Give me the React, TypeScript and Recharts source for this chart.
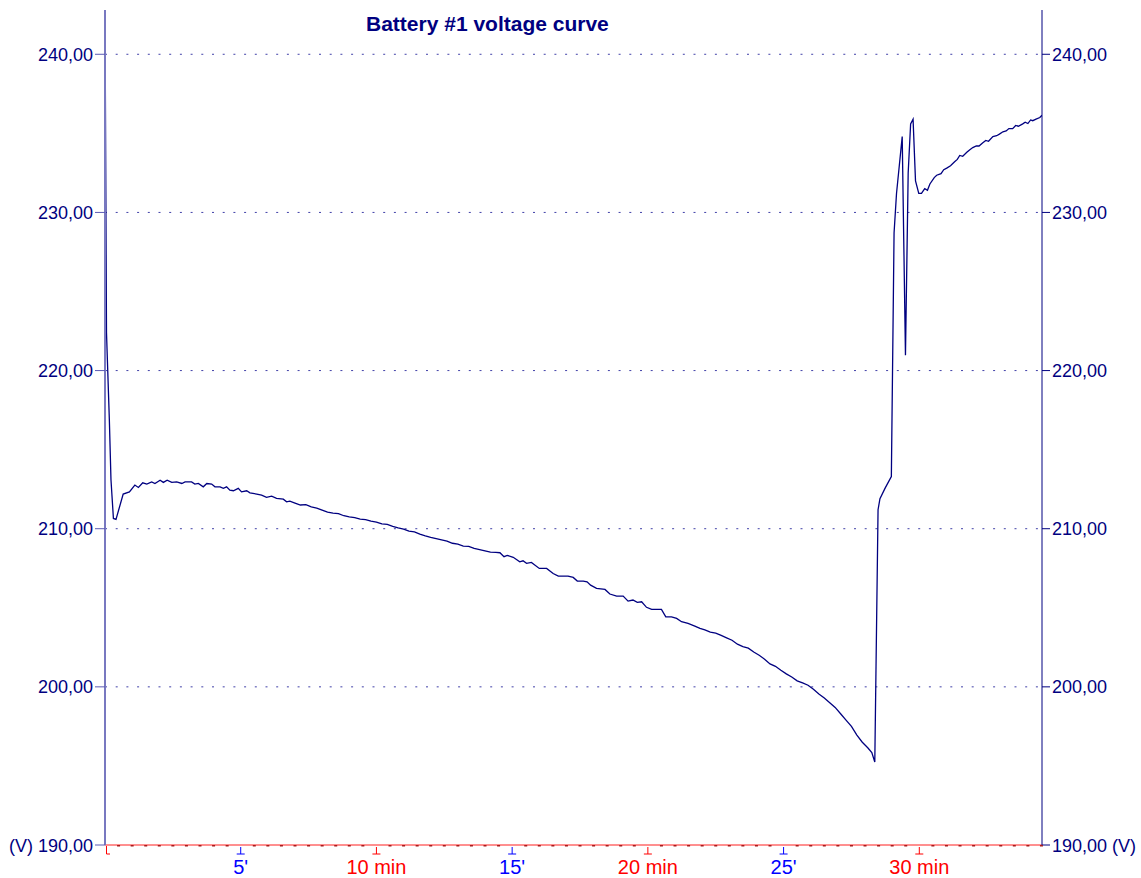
import React from "react";
import { LineChart, Line, XAxis, YAxis, CartesianGrid } from "recharts";

// time in minutes, voltage in V
const minutes = [
  0, 0.055, 0.16, 0.22, 0.31, 0.405, 0.67, 0.9, 1.1, 1.23, 1.39, 1.54, 1.72, 1.84,
  2.03, 2.15, 2.29, 2.46, 2.64, 2.83, 2.95, 3.19, 3.31, 3.44, 3.62, 3.75, 3.93,
  4.05, 4.24, 4.36, 4.48, 4.6, 4.73, 4.91, 5.03, 5.22, 5.34, 5.59, 5.77, 5.95,
  6.14, 6.32, 6.57, 6.69, 6.81,
  7.0, 7.2, 7.4, 7.6, 7.8, 8.0, 8.2, 8.4, 8.6, 8.8, 9.0, 9.2, 9.4, 9.6, 9.8,
  10.0, 10.2, 10.4, 10.6, 10.8, 11.0, 11.2, 11.4, 11.6, 11.8, 12.0, 12.2, 12.4,
  12.6, 12.8, 13.0, 13.2, 13.4, 13.6, 13.8, 14.0, 14.2, 14.4,
  14.55, 14.7, 14.82, 15.04, 15.28, 15.4, 15.53, 15.71, 16.0, 16.27, 16.51, 16.7,
  17.06, 17.25, 17.4, 17.62, 17.76, 17.89, 18.11, 18.42, 18.6, 18.85, 19.09,
  19.27, 19.45, 19.61, 19.77, 19.95, 20.14, 20.5, 20.66, 20.87, 21.06, 21.24,
  21.48, 21.73, 21.92,
  22.1, 22.3, 22.5, 22.7, 22.9, 23.1, 23.3, 23.5, 23.7, 23.9, 24.1, 24.3, 24.5,
  24.7, 24.9, 25.1, 25.3, 25.5, 25.7, 25.9, 26.1, 26.3, 26.5, 26.7, 26.9, 27.1,
  27.3, 27.5, 27.7, 27.9, 28.1, 28.25, 28.36,
  28.48, 28.55, 28.75, 28.97, 29.07, 29.16, 29.37, 29.49, 29.59, 29.68, 29.77,
  29.86, 29.98, 30.08, 30.2, 30.3, 30.39, 30.55,
  30.64, 30.8, 30.9, 31.01, 31.15, 31.3, 31.4, 31.49, 31.6, 31.75, 31.85, 31.97,
  32.1, 32.2, 32.34, 32.45, 32.55, 32.71, 32.85, 32.95, 33.08, 33.2, 33.3, 33.44,
  33.55, 33.65, 33.81, 33.9, 34.0, 34.1, 34.18, 34.3, 34.44, 34.52,
];

const volts = [
  242.8, 222.4, 216.9, 213.1, 210.65, 210.59, 212.19, 212.33, 212.76, 212.61, 212.9, 212.82, 212.96, 212.86,
  213.07, 212.93, 213.07, 212.93, 212.96, 212.86, 212.96, 212.96, 212.82, 212.86, 212.65, 212.86, 212.82,
  212.65, 212.65, 212.55, 212.65, 212.44, 212.4, 212.55, 212.33, 212.4, 212.27, 212.19, 212.12, 211.98,
  212.06, 211.92, 211.87, 211.7, 211.74,
  211.62, 211.5, 211.52, 211.38, 211.3, 211.18, 211.05, 210.98, 210.95, 210.82, 210.75, 210.7, 210.6, 210.58, 210.48,
  210.42, 210.3, 210.28, 210.15, 210.05, 209.98, 209.85, 209.8, 209.66, 209.55, 209.45, 209.38, 209.3,
  209.22, 209.08, 209.02, 208.9, 208.88, 208.75, 208.68, 208.6, 208.52, 208.5,
  208.48, 208.23, 208.31, 208.19, 207.91, 207.97, 207.81, 207.87, 207.49, 207.49, 207.17, 207.0,
  207.0, 206.92, 206.69, 206.69, 206.64, 206.43, 206.23, 206.16, 205.87, 205.74, 205.74,
  205.42, 205.49, 205.34, 205.38, 205.03, 204.9, 204.9, 204.43, 204.43, 204.33, 204.12,
  204.01, 203.84, 203.7,
  203.6, 203.46, 203.4, 203.25, 203.1, 202.95, 202.7, 202.55, 202.45, 202.2, 202.0, 201.75, 201.45,
  201.3, 201.05, 200.82, 200.62, 200.38, 200.25, 200.1, 199.85, 199.55, 199.3, 199.0, 198.7, 198.3,
  197.9, 197.5, 196.95, 196.5, 196.15, 195.85, 195.25,
  211.2, 211.9, 212.6, 213.3, 228.7, 231.2, 234.8, 220.97, 232.5, 235.6, 235.9,
  232.0, 231.2, 231.2, 231.5, 231.4, 231.8, 232.2,
  232.35, 232.45, 232.7, 232.8, 232.95, 233.2, 233.35, 233.6, 233.55, 233.8, 233.95, 234.1,
  234.2, 234.2, 234.4, 234.55, 234.5, 234.8, 234.85, 234.95, 235.1, 235.15, 235.3, 235.3,
  235.5, 235.45, 235.6, 235.7, 235.62, 235.85, 235.8, 235.9, 236.0, 236.15,
];

const voltTicks = [190, 200, 210, 220, 230, 240];
const gridVolts = [200, 210, 220, 230, 240];
const timeTicks = [0, 5, 10, 15, 20, 25, 30];
const timeLabels = ["", "5'", "10 min", "15'", "20 min", "25'", "30 min"];
const timeColors = ["#ff0000", "#0000ff", "#ff0000", "#0000ff", "#ff0000", "#0000ff", "#ff0000"];

const data = minutes.map((t, i) => ({ t, v: volts[i] }));
const allTimeTicks = Array.from({ length: 70 }, (_, i) => i * 0.5);

const FONT = "'Liberation Sans', Arial, sans-serif";
const NAVY = "#000080";

const fmt = (v: number) => v.toFixed(2).replace(".", ",");

const TimeTick = (props: any) => {
  const { x, y, payload } = props;
  const idx = timeTicks.indexOf(payload.value);
  if (idx < 0) {
    return <rect x={x - 1.5} y={y} width={3} height={1.5} fill="#a81c1c" />;
  }
  const color = timeColors[idx];
  if (idx === 0) {
    return <path d={`M${x + 1.5},${y + 1} V${y + 9} H${x + 5}`} stroke={color} fill="none" />;
  }
  return (
    <g>
      <path d={`M${x},${y + 2} V${y + 9} M${x - 4},${y + 9} H${x + 4}`} stroke={color} fill="none" />
      <text x={x} y={y + 29} textAnchor="middle" fill={color} fontSize={20} fontFamily={FONT}>
        {timeLabels[idx]}
      </text>
    </g>
  );
};

const LeftTick = (props: any) => {
  const { x, y, payload } = props;
  const label = payload.value === 190 ? "(V) 190,00" : fmt(payload.value);
  return (
    <text x={x} y={y} dy={6.5} textAnchor="end" fill={NAVY} fontSize={18} fontFamily={FONT}>
      {label}
    </text>
  );
};

const RightTick = (props: any) => {
  const { x, y, payload } = props;
  const label = payload.value === 190 ? "190,00 (V)" : fmt(payload.value);
  return (
    <text x={x} y={y} dy={6.5} textAnchor="start" fill={NAVY} fontSize={18} fontFamily={FONT}>
      {label}
    </text>
  );
};

export default function App() {
  return (
    <div style={{ position: "absolute", left: 0, top: 0, width: 1141, height: 878, background: "#fff" }}>
      <LineChart width={1141} height={878} data={data} margin={{ top: 10, right: 0, bottom: 0, left: 0 }}>
        <CartesianGrid
          vertical={false}
          yAxisId="left"
          horizontalValues={gridVolts}
          stroke="#4040a8"
          strokeDasharray="2 8.7"
        />
        <XAxis
          dataKey="t"
          type="number"
          domain={[0, 34.52]}
          ticks={allTimeTicks}
          interval={0}
          allowDataOverflow
          height={33}
          stroke="#ff2020"
          tickLine={false}
          tickSize={0}
          tickMargin={0}
          tick={<TimeTick />}
        />
        <YAxis
          yAxisId="left"
          type="number"
          domain={[190, 242.8]}
          ticks={voltTicks}
          allowDataOverflow
          width={105}
          axisLine={{ stroke: "#7878c0", strokeWidth: 2 }}
          tickLine={{ stroke: "#5a5ab4" }}
          tickSize={10}
          tickMargin={2}
          tick={<LeftTick />}
        />
        <YAxis
          yAxisId="right"
          orientation="right"
          type="number"
          domain={[190, 242.8]}
          ticks={voltTicks}
          allowDataOverflow
          width={99}
          axisLine={{ stroke: NAVY }}
          tickLine={{ stroke: NAVY }}
          tickSize={8}
          tickMargin={2}
          tick={<RightTick />}
        />
        <Line
          yAxisId="left"
          type="linear"
          dataKey="v"
          stroke={NAVY}
          strokeWidth={1.3}
          dot={false}
          isAnimationActive={false}
        />
      </LineChart>
      <svg
        width={1141}
        height={40}
        style={{ position: "absolute", left: 0, top: 0, pointerEvents: "none" }}
      >
        <text x={366} y={30.5} fill={NAVY} fontSize={21} fontWeight="bold" fontFamily={FONT}>
          Battery #1 voltage curve
        </text>
      </svg>
    </div>
  );
}
